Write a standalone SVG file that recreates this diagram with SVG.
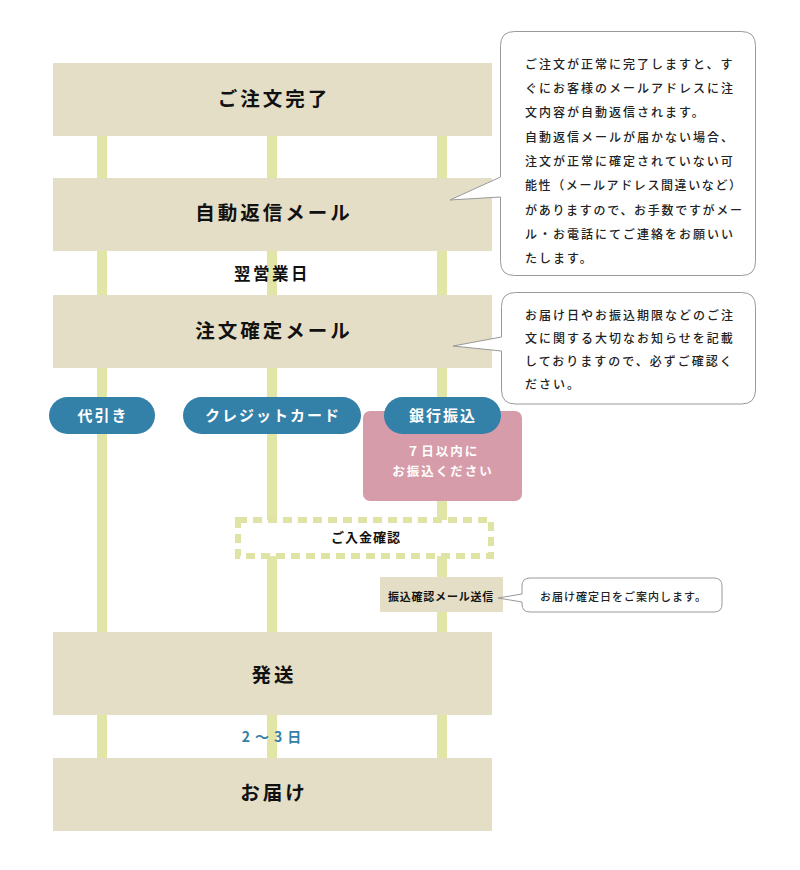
<svg xmlns="http://www.w3.org/2000/svg" width="800" height="870" viewBox="0 0 800 870">
<style>
text{font-family:"Noto Sans CJK JP","Noto Sans",sans-serif;}
.step{fill:#e4dec6;}
.lbl{font-size:19.5px;font-weight:bold;fill:#111;text-anchor:middle;letter-spacing:3px;}
.pill{fill:#3380a8;}
.pt{font-size:15px;font-weight:bold;fill:#fff;text-anchor:middle;letter-spacing:2px;}
.bub{fill:#fff;stroke:#999;stroke-width:1;}
.bt{font-size:12px;font-weight:500;fill:#222;letter-spacing:2px;}
.vl{fill:#e1e6a7;}
</style>
<g id="connectors">
<rect class="vl" x="97" y="130" width="10" height="630"/>
<rect class="vl" x="267" y="130" width="10" height="630"/>
<rect class="vl" x="437" y="130" width="10" height="630"/>
</g>
<g id="n-order">
<rect class="step" x="53" y="63" width="439" height="73"/>
<text class="lbl" x="274" y="106">ご注文完了</text>
</g>
<g id="n-automail">
<rect class="step" x="53" y="178" width="439" height="73"/>
<text class="lbl" x="274" y="220">自動返信メール</text>
</g>
<g id="t-nextday">
<text x="272" y="280" style="font-size:16.5px;font-weight:bold;fill:#111;text-anchor:middle;letter-spacing:2.5px">翌営業日</text>
</g>
<g id="n-confirm">
<rect class="step" x="53" y="295" width="439" height="73"/>
<text class="lbl" x="274" y="338">注文確定メール</text>
</g>
<g id="n-cod">
<rect class="pill" x="49" y="397" width="106" height="37" rx="18.5"/>
<text class="pt" x="103" y="421">代引き</text>
</g>
<g id="n-card">
<rect class="pill" x="183" y="397" width="178" height="37" rx="18.5"/>
<text class="pt" x="273" y="421">クレジットカード</text>
</g>
<g id="n-bank">
<rect x="363" y="411" width="159" height="90" rx="7" fill="#d69ca9"/>
<rect class="pill" x="384" y="397" width="117" height="37" rx="18.5"/>
<text class="pt" x="443" y="421">銀行振込</text>
<text x="443" y="456" style="font-size:12.5px;font-weight:bold;fill:#fff;text-anchor:middle;letter-spacing:2px">７日以内に</text>
<text x="443" y="476" style="font-size:12.5px;font-weight:bold;fill:#fff;text-anchor:middle;letter-spacing:2px">お振込ください</text>
</g>
<g id="n-payment">
<rect x="238" y="520" width="253" height="36" fill="#fff" stroke="#dfe3a3" stroke-width="6" stroke-dasharray="9 6"/>
<text x="366" y="542" style="font-size:13px;font-weight:bold;fill:#111;text-anchor:middle;letter-spacing:1px">ご入金確認</text>
</g>
<g id="n-paymail">
<rect class="step" x="380" y="577" width="123" height="35"/>
<text x="441" y="601" style="font-size:11px;font-weight:bold;fill:#111;text-anchor:middle;letter-spacing:0.8px">振込確認メール送信</text>
</g>
<g id="n-ship">
<rect class="step" x="53" y="632" width="439" height="83"/>
<text class="lbl" x="274" y="682">発送</text>
</g>
<g id="t-days">
<text x="274" y="742" style="font-size:14px;font-weight:bold;fill:#3380a8;text-anchor:middle;letter-spacing:5px">2～3日</text>
</g>
<g id="n-deliver">
<rect class="step" x="53" y="758" width="439" height="73"/>
<text class="lbl" x="274" y="800">お届け</text>
</g>
<g id="b-auto">
<path class="bub" d="M514.5,31.5 H741.5 Q755.5,31.5 755.5,45.5 V261.5 Q755.5,275.5 741.5,275.5 H514.5 Q500.5,275.5 500.5,261.5 V197 L450,200 L500.5,177 V45.5 Q500.5,31.5 514.5,31.5 Z"/>
<text class="bt" x="525" y="69">ご注文が正常に完了しますと、す</text>
<text class="bt" x="525" y="93">ぐにお客様のメールアドレスに注</text>
<text class="bt" x="525" y="117">文内容が自動返信されます。</text>
<text class="bt" x="525" y="142">自動返信メールが届かない場合、</text>
<text class="bt" x="525" y="166">注文が正常に確定されていない可</text>
<text class="bt" x="525" y="190" style="letter-spacing:1.6px">能性（メールアドレス間違いなど）</text>
<text class="bt" x="525" y="215" style="letter-spacing:1.7px">がありますので、お手数ですがメー</text>
<text class="bt" x="525" y="239">ル・お電話にてご連絡をお願いい</text>
<text class="bt" x="525" y="263">たします。</text>
</g>
<g id="b-confirm">
<path class="bub" d="M515.5,292.5 H741.5 Q755.5,292.5 755.5,306.5 V390 Q755.5,404 741.5,404 H515.5 Q501.5,404 501.5,390 V351 L453,346 L501.5,337 V306.5 Q501.5,292.5 515.5,292.5 Z"/>
<text class="bt" x="525" y="320">お届け日やお振込期限などのご注</text>
<text class="bt" x="525" y="343">文に関する大切なお知らせを記載</text>
<text class="bt" x="525" y="366">しておりますので、必ずご確認く</text>
<text class="bt" x="525" y="389">ださい。</text>
</g>
<g id="b-paymail">
<path class="bub" d="M530,578 H714 Q722,578 722,586 V604 Q722,612 714,612 H530 Q522,612 522,604 V602 L498,598 L522,594 V586 Q522,578 530,578 Z"/>
<text x="540" y="601" style="font-size:11px;font-weight:500;fill:#222;letter-spacing:1px">お届け確定日をご案内します。</text>
</g>
</svg>
